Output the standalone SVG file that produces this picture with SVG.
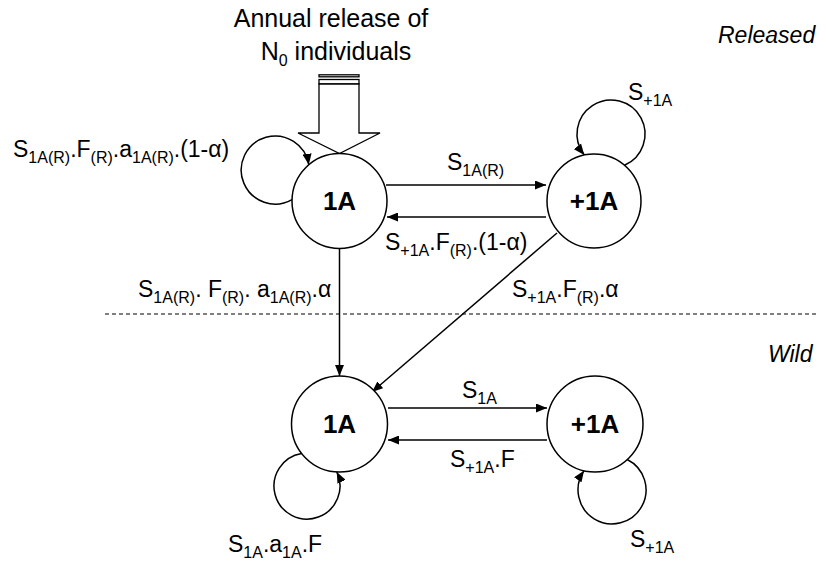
<svg xmlns="http://www.w3.org/2000/svg" width="826" height="562" viewBox="0 0 826 562">
<style>
text{font-family:"Liberation Sans",Arial,sans-serif;font-size:23px;fill:#000}
.sub{font-size:16px}
.node circle{fill:#fff;stroke:#000;stroke-width:1.5}
.node text{font-weight:bold;font-size:26px;text-anchor:middle}
.conn path{fill:none;stroke:#000;stroke-width:1.5}
.it{font-style:italic}
</style>
<defs>
<marker id="ah" markerUnits="userSpaceOnUse" markerWidth="11" markerHeight="9" refX="11" refY="4.5" orient="auto">
<path d="M0,0 L11,4.5 L0,9 z" fill="#000"/>
</marker>
</defs>
<rect width="826" height="562" fill="#fff"/>

<line x1="105" y1="314" x2="816" y2="314" stroke="#000" stroke-width="1.2" stroke-dasharray="4,3"/>

<g id="release-arrow" fill="#fff" stroke="#000" stroke-width="1.3">
<rect x="319" y="74.8" width="40" height="2"/>
<rect x="319" y="79.5" width="40" height="4.5"/>
<path d="M319 84 L359 84 L359 133 L380 133 L339.5 153.5 L298 133 L319 133 Z"/>
</g>

<g class="conn">
<path d="M386 185 L546 185" marker-end="url(#ah)"/>
<path d="M546 217 L387 217" marker-end="url(#ah)"/>
<path d="M339.5 249 L339.5 376" marker-end="url(#ah)"/>
<path d="M557 233 L372 392" marker-end="url(#ah)"/>
<path d="M388 408 L547 408" marker-end="url(#ah)"/>
<path d="M547 440 L388 440" marker-end="url(#ah)"/>
<path d="M292 199.6 A34 34 0 1 1 308.8 164.8" marker-end="url(#ah)"/>
<path d="M624.5 165.2 A34 34 0 1 0 584.3 155" marker-end="url(#ah)"/>
<path d="M301.6 453.5 A33 33 0 1 0 336.8 471.9" marker-end="url(#ah)"/>
<path d="M627.2 459.5 A34 34 0 1 1 584 470.7" marker-end="url(#ah)"/>
</g>

<g id="released-1A" class="node"><circle cx="339.5" cy="201" r="47.5"/><text x="339.5" y="210">1A</text></g>
<g id="released-plus1A" class="node"><circle cx="594" cy="201" r="47"/><text x="594" y="210">+1A</text></g>
<g id="wild-1A" class="node"><circle cx="339.5" cy="424" r="48"/><text x="339.5" y="433">1A</text></g>
<g id="wild-plus1A" class="node"><circle cx="595" cy="424" r="48"/><text x="595" y="433">+1A</text></g>

<g id="labels">
<text x="331" y="27" text-anchor="middle" style="font-size:25px">Annual release of</text>
<text x="336" y="60" text-anchor="middle" style="font-size:25px">N<tspan class="sub" dy="6">0</tspan><tspan dy="-6"> individuals</tspan></text>
<text x="718" y="43" class="it">Released</text>
<text x="768" y="362" class="it">Wild</text>

<text x="13" y="157">S<tspan class="sub" dy="6">1A(R)</tspan><tspan dy="-6">.F</tspan><tspan class="sub" dy="6">(R)</tspan><tspan dy="-6">.a</tspan><tspan class="sub" dy="6">1A(R)</tspan><tspan dy="-6">.(1-α)</tspan></text>
<text x="447" y="170">S<tspan class="sub" dy="6">1A(R)</tspan></text>
<text x="628" y="100">S<tspan class="sub" dy="6">+1A</tspan></text>
<text x="385" y="250">S<tspan class="sub" dy="6">+1A</tspan><tspan dy="-6">.F</tspan><tspan class="sub" dy="6">(R)</tspan><tspan dy="-6">.(1-α)</tspan></text>
<text x="138" y="297">S<tspan class="sub" dy="6">1A(R)</tspan><tspan dy="-6">. F</tspan><tspan class="sub" dy="6">(R)</tspan><tspan dy="-6">. a</tspan><tspan class="sub" dy="6">1A(R)</tspan><tspan dy="-6">.α</tspan></text>
<text x="512" y="297">S<tspan class="sub" dy="6">+1A</tspan><tspan dy="-6">.F</tspan><tspan class="sub" dy="6">(R)</tspan><tspan dy="-6">.α</tspan></text>
<text x="462" y="398">S<tspan class="sub" dy="6">1A</tspan></text>
<text x="450" y="467">S<tspan class="sub" dy="6">+1A</tspan><tspan dy="-6">.F</tspan></text>
<text x="228" y="552">S<tspan class="sub" dy="6">1A</tspan><tspan dy="-6">.a</tspan><tspan class="sub" dy="6">1A</tspan><tspan dy="-6">.F</tspan></text>
<text x="630" y="547">S<tspan class="sub" dy="6">+1A</tspan></text>
</g>
</svg>
